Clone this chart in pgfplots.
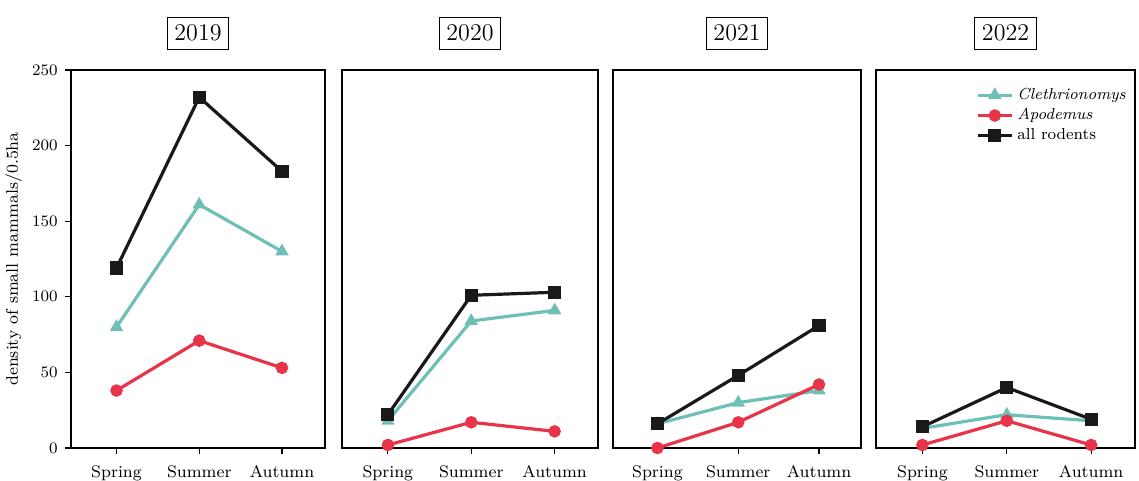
\documentclass[border=0pt]{standalone}
\usepackage{pgfplots}
\pgfplotsset{compat=1.18}
\definecolor{cleth}{RGB}{110,192,182}
\definecolor{apod}{RGB}{232,52,72}
\definecolor{allr}{RGB}{25,25,25}
\pgfplotsset{
  panel/.style={
    scale only axis, height=189pt,
    ymin=0, ymax=250, xmin=-0.55, xmax=2.52,
    xtick={0,1,2}, xticklabels={Spring,Summer,Autumn},
    ytick={0,50,100,150,200,250},
    tick align=outside, tick pos=left,
    major tick length=3pt,
    tick style={black, line width=0.6pt},
    axis line style={line width=0.7pt},
    every axis/.append style={line width=0.7pt},
    ticklabel style={font=\fontsize{8.4}{9}\selectfont},
    xticklabel style={yshift=-2pt},
    title style={font=\fontsize{12}{13}\selectfont, draw, line width=0.5pt, inner xsep=3.5pt, inner ysep=4pt, yshift=4pt},
    clip=false,
  },
  cl/.style={color=cleth, line width=1.6pt, mark=triangle*, mark size=2.3pt},
  ap/.style={color=apod, line width=1.6pt, mark=*, mark size=2.3pt},
  al/.style={color=allr, line width=1.6pt, mark=square*, mark size=2.5pt},
}
\begin{document}
\begin{tikzpicture}
\useasboundingbox (0,0) rectangle (569.5pt,240.5pt);
% Panel 2019
\begin{axis}[panel, at={(35.5pt,16.5pt)}, anchor=south west, width=127pt, title={2019},
  ylabel={density of small mammals/0.5ha}, ylabel style={font=\fontsize{8.4}{9}\selectfont, yshift=-2pt}]
\addplot[cl] coordinates {(0,80) (1,161) (2,130)};
\addplot[ap] coordinates {(0,38) (1,71) (2,53)};
\addplot[al] coordinates {(0,119) (1,232) (2,183)};
\end{axis}
% Panel 2020
\begin{axis}[panel, at={(171pt,16.5pt)}, anchor=south west, width=128pt, title={2020}, ytick=\empty]
\addplot[cl] coordinates {(0,18) (1,84) (2,91)};
\addplot[ap] coordinates {(0,2) (1,17) (2,11)};
\addplot[al] coordinates {(0,22) (1,101) (2,103)};
\end{axis}
% Panel 2021
\begin{axis}[panel, at={(306.5pt,16.5pt)}, anchor=south west, width=124pt, title={2021}, ytick=\empty]
\addplot[cl] coordinates {(0,16) (1,30) (2,38)};
\addplot[ap] coordinates {(0,0) (1,17) (2,42)};
\addplot[al] coordinates {(0,16) (1,48) (2,81)};
\end{axis}
% Panel 2022
\begin{axis}[panel, at={(438pt,16.5pt)}, anchor=south west, width=129.5pt, title={2022}, ytick=\empty,
  legend style={draw=none, fill=none, at={(0.99,0.97)}, anchor=north east,
    font=\fontsize{8}{9}\selectfont, row sep=-1pt, inner sep=1pt},
  legend cell align=left]
\addplot[cl] coordinates {(0,13) (1,22) (2,18)};
\addlegendentry{\textit{Clethrionomys}}
\addplot[ap] coordinates {(0,2) (1,18) (2,2)};
\addlegendentry{\textit{Apodemus}}
\addplot[al] coordinates {(0,14) (1,40) (2,19)};
\addlegendentry{all rodents}
\end{axis}
\end{tikzpicture}
\end{document}
